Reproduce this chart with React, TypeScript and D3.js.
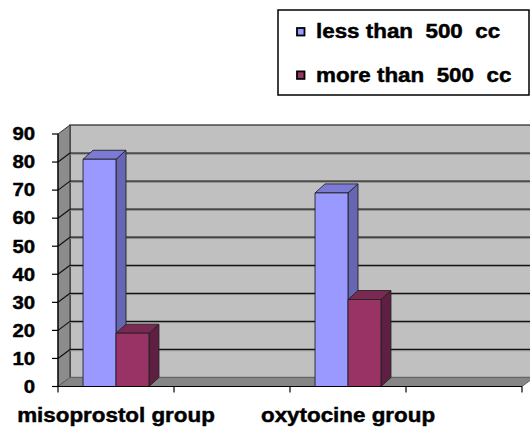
import React from "react";
import * as d3 from "d3";

const WIDTH = 530;
const HEIGHT = 431;

// chart data
const categories = ["misoprostol group", "", "oxytocine group", ""];
const seriesNames = ["less than  500  cc", "more than  500  cc"];
const lessThan500 = [81, null, 69, null];
const moreThan500 = [19, null, 31, null];
const yTicks = [0, 10, 20, 30, 40, 50, 60, 70, 80, 90];

const SERIES = [
  { name: seriesNames[0], values: lessThan500, front: "#9999FF", side: "#6666B3", top: "#7B7BD6" },
  { name: seriesNames[1], values: moreThan500, front: "#993366", side: "#5F1F42", top: "#7A2952" },
];

const PLOT = { left: 58, right: 522, top: 134, bottom: 386.5 };
const WALL_DX = 12;
const WALL_DY = -9;
const BAR_DX = 10;
const BAR_DY = -9;
const FONT = "'Liberation Sans', Arial, sans-serif";
const STRETCH = 1.12;
const TEXT_HEAVY = { stroke: "#000", strokeWidth: 0.45 };

export default function App() {
  const x0 = d3
    .scaleBand<number>()
    .domain(d3.range(categories.length))
    .range([PLOT.left, PLOT.right]);
  const x1 = d3
    .scaleBand<number>()
    .domain(d3.range(SERIES.length))
    .range([0, x0.bandwidth()])
    .paddingOuter(0.76);
  const y = d3.scaleLinear().domain([0, 90]).range([PLOT.bottom, PLOT.top]);

  const pts = (p: number[][]) => p.map((d) => d.join(",")).join(" ");

  // back wall, side wall and floor
  const backLeft = PLOT.left + WALL_DX;
  const backRight = PLOT.right + WALL_DX;
  const walls = (
    <g>
      <rect
        x={backLeft}
        y={y(90) + WALL_DY}
        width={backRight - backLeft}
        height={y(0) - y(90)}
        fill="#C0C0C0"
        stroke="#333"
        strokeWidth={1.3}
      />
      <polygon
        points={pts([
          [PLOT.left, y(90)],
          [backLeft, y(90) + WALL_DY],
          [backLeft, y(0) + WALL_DY],
          [PLOT.left, y(0)],
        ])}
        fill="#8C8C8C"
        stroke="#333"
      />
      <polygon
        points={pts([
          [PLOT.left, y(0)],
          [PLOT.right, y(0)],
          [backRight, y(0) + WALL_DY],
          [backLeft, y(0) + WALL_DY],
        ])}
        fill="#858585"
        stroke="#666"
      />
    </g>
  );

  // gridlines on back wall + side wall
  const grid = yTicks.slice(1, -1).map((v) => (
    <g key={v}>
      <line x1={backLeft} x2={backRight} y1={y(v) + WALL_DY} y2={y(v) + WALL_DY} stroke="#111" strokeWidth={1.2} />
      <line x1={backLeft} x2={backRight} y1={y(v) + WALL_DY + 1.2} y2={y(v) + WALL_DY + 1.2} stroke="#8a8a8a" />
      <line x1={PLOT.left} x2={backLeft} y1={y(v)} y2={y(v) + WALL_DY} stroke="#111" strokeWidth={1.2} />
    </g>
  ));

  // 3D bars
  const bars = SERIES.flatMap((s, si) =>
    s.values.map((v, ci) => {
      if (v == null) return null;
      const xl = (x0(ci) as number) + (x1(si) as number);
      const xr = xl + x1.bandwidth();
      const yt = y(v);
      const yb = y(0);
      return (
        <g key={`${si}-${ci}`} stroke="#222" strokeWidth={0.9} strokeLinejoin="round">
          <polygon
            points={pts([
              [xr, yt],
              [xr + BAR_DX, yt + BAR_DY],
              [xr + BAR_DX, yb + BAR_DY],
              [xr, yb],
            ])}
            fill={s.side}
          />
          <polygon
            points={pts([
              [xl, yt],
              [xl + BAR_DX, yt + BAR_DY],
              [xr + BAR_DX, yt + BAR_DY],
              [xr, yt],
            ])}
            fill={s.top}
          />
          <rect x={xl} y={yt} width={xr - xl} height={yb - yt} fill={s.front} />
        </g>
      );
    })
  );

  // axes
  const yAxis = (
    <g>
      <line x1={PLOT.left} x2={PLOT.left} y1={y(90)} y2={y(0)} stroke="#000" strokeWidth={1.2} />
      {yTicks.map((v) => (
        <g key={v}>
          <line x1={PLOT.left - 6} x2={PLOT.left} y1={y(v)} y2={y(v)} stroke="#000" strokeWidth={1.2} />
          <text
            transform={`translate(35,${y(v) + 6.3}) scale(1.13,1)`}
            textAnchor="end"
            fontFamily={FONT}
            fontWeight="bold"
            fontSize={18}
            {...TEXT_HEAVY}
          >
            {v}
          </text>
        </g>
      ))}
    </g>
  );

  const xTickPos = [...x0.domain().map((d) => x0(d) as number), PLOT.right];
  const xAxis = (
    <g>
      <line x1={PLOT.left} x2={PLOT.right} y1={y(0)} y2={y(0)} stroke="#000" strokeWidth={1.2} />
      {xTickPos.map((p, i) => (
        <line key={i} x1={p} x2={p} y1={y(0)} y2={y(0) + 6} stroke="#000" strokeWidth={1.2} />
      ))}
      {categories.map((c, i) => (
        <text
          key={i}
          transform={`translate(${(x0(i) as number) + x0.bandwidth() / 2},422) scale(${STRETCH},1)`}
          textAnchor="middle"
          fontFamily={FONT}
          fontWeight="bold"
          fontSize={20}
          {...TEXT_HEAVY}
        >
          {c}
        </text>
      ))}
    </g>
  );

  const legend = (
    <g>
      <rect x={278} y={10} width={251} height={85} fill="#fff" stroke="#000" strokeWidth={1.5} />
      {SERIES.map((s, i) => (
        <g key={s.name} transform={`translate(0,${i * 43.4})`}>
          <rect x={297} y={28} width={7.5} height={7.5} fill={s.front} stroke="#000" strokeWidth={1.8} />
          <text
            transform={`translate(316,38.3) scale(${STRETCH},1)`}
            fontFamily={FONT}
            fontWeight="bold"
            fontSize={20}
            style={{ whiteSpace: "pre" }}
            {...TEXT_HEAVY}
          >
            {s.name}
          </text>
        </g>
      ))}
    </g>
  );

  return (
    <div style={{ position: "absolute", left: 0, top: 0 }}>
      <svg width={WIDTH} height={HEIGHT} style={{ display: "block", background: "#fff" }}>
        {walls}
        {grid}
        {bars}
        {yAxis}
        {xAxis}
        {legend}
      </svg>
    </div>
  );
}
